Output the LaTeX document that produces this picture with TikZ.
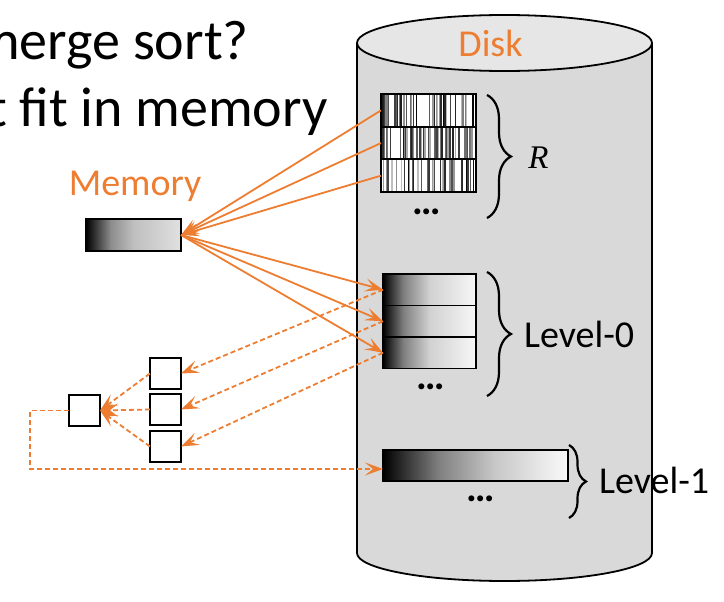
\documentclass[tikz,border=0pt]{standalone}
\usepackage{fontspec}
\setmainfont{Carlito}
\newfontfamily\rfont{Liberation Serif}
\usetikzlibrary{arrows.meta,decorations.pathreplacing}
\definecolor{org}{HTML}{ED7D31}
\definecolor{cylbody}{HTML}{D9D9D9}
\definecolor{cyltop}{HTML}{E6E6E6}
\pgfdeclarehorizontalshading{memshade}{100bp}{color(0bp)=(black); color(25bp)=(black); color(38bp)=(black!45); color(50bp)=(black!25); color(75bp)=(black!12); color(100bp)=(black!12)}
\pgfdeclarehorizontalshading{lvlzero}{100bp}{color(0bp)=(black); color(25bp)=(black); color(36bp)=(black!50); color(50bp)=(black!18); color(75bp)=(black!3); color(100bp)=(black!3)}
\pgfdeclarehorizontalshading{lvlone}{100bp}{color(0bp)=(black); color(25bp)=(black); color(40bp)=(black!50); color(55bp)=(black!22); color(75bp)=(black!2); color(100bp)=(black!2)}
\begin{document}
\begin{tikzpicture}[x=1pt,y=-1pt,
  oarrow/.style={draw=org, line width=1.8pt, -{Stealth[length=18pt,width=13pt,inset=8pt]}},
  odash/.style={oarrow, dash pattern=on 5pt off 3pt},
  blk/.style={draw=black, line width=1.8pt, inner sep=0pt, outer sep=0pt},
  lbl/.style={inner sep=0pt, font=\fontsize{38}{38}\selectfont},
  dots/.style={inner sep=0pt, font=\fontsize{40}{40}\selectfont\bfseries},
  big/.style={inner sep=0pt, font=\fontsize{56}{56}\selectfont},
  brc/.style={decorate, decoration={brace, amplitude=#1}, line width=2.2pt}]
\useasboundingbox (0,0) rectangle (724,602);
\clip (0,0) rectangle (724,602);
% title text
\node[big, anchor=base west] (t1) at (-25,60) {merge sort?};
\node[big, anchor=base west] (t2) at (-12,127) {t fit in memory};
% cylinder
\fill[cylbody] (357,43) -- (357,553) arc[start angle=180,end angle=360,x radius=147.5pt,y radius=28pt] -- (652,43) -- cycle;
\draw[line width=1.8pt] (357,43) -- (357,553) arc[start angle=180,end angle=360,x radius=147.5pt,y radius=28pt] -- (652,43);
\draw[line width=1.8pt, fill=cyltop] (504.5,43) ellipse [x radius=147.5pt, y radius=28pt];
\node[lbl, text=org, anchor=base] (disk) at (490.5,57) {Disk};
% R blocks (barcode)
\fill[white] (381,94) rectangle (476,192);
\pgfmathsetseed{11}
\foreach \ya/\yb in {94/126.7, 126.7/159.3, 159.3/192} {
  \foreach \i in {1,...,48} {
    \pgfmathsetmacro\xx{382.5+92*rnd}
    \pgfmathtruncatemacro\gg{25+75*rnd}
    \pgfmathsetmacro\ww{0.4+1.5*rnd}
    \draw[line width=\ww pt, black!\gg] (\xx,\ya) -- (\xx,\yb);
  }
}
\node[blk, minimum width=95pt, minimum height=32.7pt, anchor=north west] (r1) at (381,94) {};
\node[blk, minimum width=95pt, minimum height=32.7pt, anchor=north west] (r2) at (381,126.7) {};
\node[blk, minimum width=95pt, minimum height=32.7pt, anchor=north west] (r3) at (381,159.3) {};
\node[dots, anchor=base] (d1) at (427,214) {…};
\draw[brc=24pt] (487,95) -- (487,218);
\node[inner sep=0pt, font=\fontsize{33}{33}\selectfont\rfont\itshape] (rlbl) at (538.5,158) {R};
% Level-0
\node[blk, shade, shading=lvlzero, minimum width=93pt, minimum height=31.5pt, anchor=north west] (a1) at (383,274) {};
\node[blk, shade, shading=lvlzero, minimum width=93pt, minimum height=31.5pt, anchor=north west] (a2) at (383,305.5) {};
\node[blk, shade, shading=lvlzero, minimum width=93pt, minimum height=31.5pt, anchor=north west] (a3) at (383,337) {};
\node[dots, anchor=base] (d2) at (431,389) {…};
\draw[brc=24pt] (487,272) -- (487,396);
\node[lbl, anchor=base west] (lv0) at (524,347) {Level-0};
% Level-1
\node[blk, shade, shading=lvlone, minimum width=185pt, minimum height=31pt, anchor=north west] (l1) at (383,450) {};
\node[dots, anchor=base] (d3) at (481,501) {…};
\draw[brc=17pt] (569,445) -- (569,518);
\node[lbl, anchor=base west] (lv1) at (599,493) {Level-1};
% Memory
\node[lbl, text=org, anchor=base] (memlbl) at (135,195) {Memory};
\node[blk, shade, shading=memshade, minimum width=95pt, minimum height=32pt, anchor=north west] (mem) at (86,219) {};
% merge buffers
\node[blk, fill=white, minimum width=31pt, minimum height=31pt, anchor=north west] (b1) at (150,358) {};
\node[blk, fill=white, minimum width=31pt, minimum height=31pt, anchor=north west] (b2) at (150,394) {};
\node[blk, fill=white, minimum width=31pt, minimum height=31pt, anchor=north west] (b3) at (150,431) {};
\node[blk, fill=white, minimum width=31pt, minimum height=31pt, anchor=north west] (out) at (69,395) {};
\coordinate (turn) at (30,410.5);
\coordinate (turn2) at (30,469);
% connectors
\draw[oarrow] (r1.west) -- (mem.east);
\draw[oarrow] (r2.west) -- (mem.east);
\draw[oarrow] (r3.west) -- (mem.east);
\draw[oarrow] (mem.east) -- (a1.west);
\draw[oarrow] (mem.east) -- (a2.west);
\draw[oarrow] (mem.east) -- (a3.west);
\draw[odash] (a1.west) -- (b1.east);
\draw[odash] (a2.west) -- (b2.east);
\draw[odash] (a3.west) -- (b3.east);
\draw[odash] (b1.west) -- (out.east);
\draw[odash] (b2.west) -- (out.east);
\draw[odash] (b3.west) -- (out.east);
\draw[odash] (out.west) -- (turn) -- (turn2) -- (l1.west |- turn2);
\end{tikzpicture}
\end{document}
